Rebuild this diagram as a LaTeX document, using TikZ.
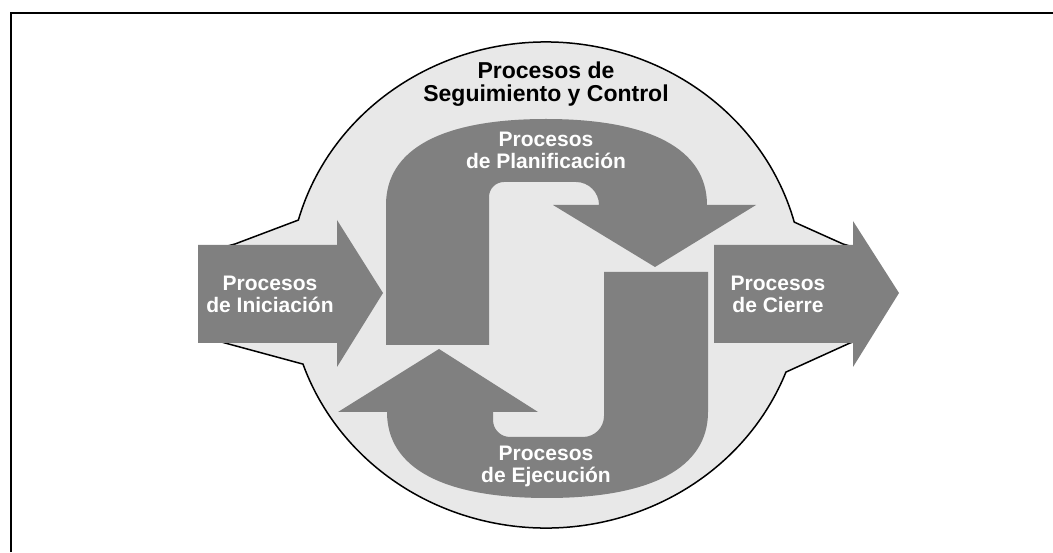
\documentclass[tikz,border=0pt]{standalone}
\usepackage{fontspec}
\setmainfont{Liberation Sans}
\usetikzlibrary{calc}

\begin{document}
\begin{tikzpicture}[x=1pt, y=1pt,
 fondo/.style={fill=black!9, draw=black, line width=1.5pt},
 flecha/.style={fill=black!50},
 rotulo/.style={text=white, font=\bfseries\fontsize{21}{22}\selectfont, align=center, inner sep=0pt}]
 \useasboundingbox (0,0) rectangle (1053,552);
 \draw[line width=2pt] (11,0) -- (11,539) -- (1053,539);% marco
 \coordinate (C) at (546,267);
 % zona de seguimiento y control
 \path[fondo] ($(C)+(164.5:257 and 243)$)
  arc[start angle=164.5, end angle=15, x radius=257, y radius=243]
  -- (843,308) -- (870,300) -- (870,215) -- (850,209)
  -- ($(C)+(-21:257 and 243)$)
  arc[start angle=-21, end angle=-161, x radius=257, y radius=243]
  -- (225,209) -- (205,215) -- (205,300) -- (235,308) -- cycle;
 % flechas de entrada y salida
 \fill[flecha] (198,209) -- (337,209) -- (337,185) -- (383,259)
  -- (337,332) -- (337,307) -- (198,307) -- cycle;
 \fill[flecha] (714,209) -- (853,209) -- (853,185) -- (899,259)
  -- (853,331) -- (853,307) -- (714,307) -- cycle;
 % planificacion
 \fill[flecha] (386,207) -- (386,347)
  .. controls (386,403) and (442,433) .. (546,433)
  .. controls (650,433) and (707,403) .. (707,347)
  -- (756,347) -- (655,285) -- (553,347) -- (599,347)
  arc[start angle=0, end angle=90, radius=23] -- (504,370)
  arc[start angle=90, end angle=180, radius=15] -- (489,207) -- cycle;
 % ejecucion
 \fill[flecha] (604,280) -- (708,280) -- (708,140)
  .. controls (708,84) and (651,54) .. (547,54)
  .. controls (443,54) and (387,84) .. (387,140)
  -- (338,140) -- (439,203) -- (538,140) -- (493,140) -- (493,132)
  arc[start angle=180, end angle=270, radius=17] -- (583,115)
  arc[start angle=270, end angle=360, radius=21] -- cycle;
 \node[font=\bfseries\fontsize{23}{23}\selectfont, align=center, inner sep=0pt] (seg) at (546,468) {Procesos de\\Seguimiento y Control};
 \node[rotulo] (plan) at (546,401.5) {Procesos\\de Planificación};
 \node[rotulo] (ini) at (270,258) {Procesos\\de Iniciación};
 \node[rotulo] (cierre) at (778,258) {Procesos\\de Cierre};
 \node[rotulo] (ejec) at (546,85.5) {Procesos\\de Ejecución};
\end{tikzpicture}
\end{document}
